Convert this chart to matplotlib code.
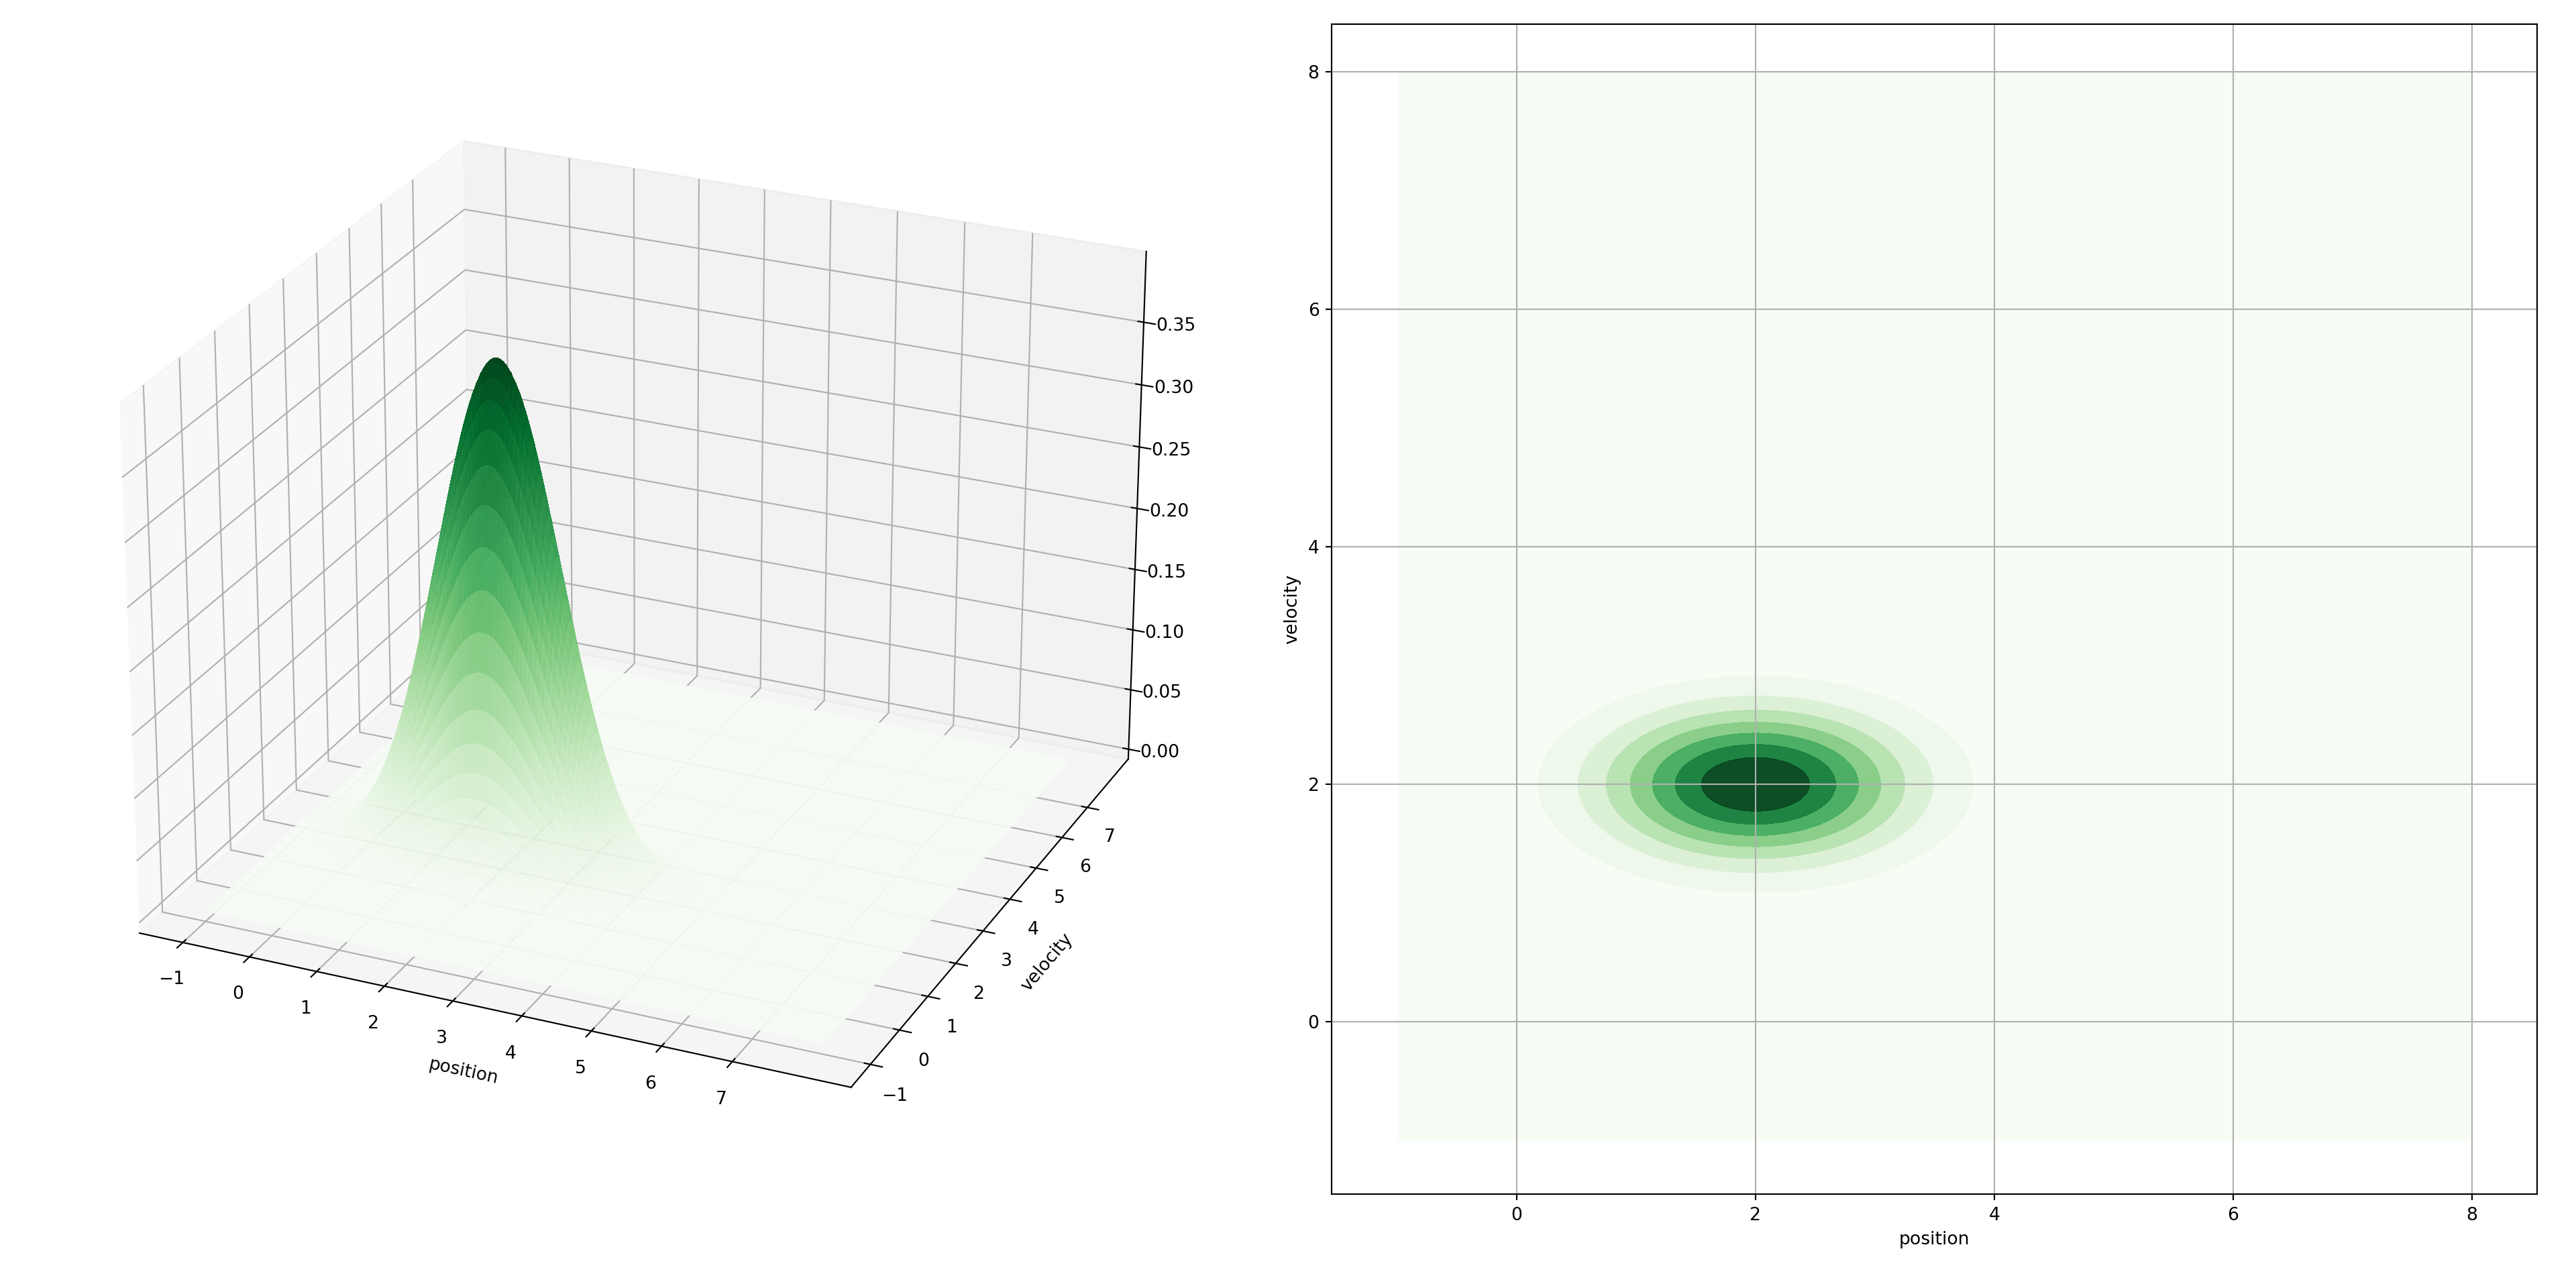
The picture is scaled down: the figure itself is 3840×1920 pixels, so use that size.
import numpy as np
import matplotlib
matplotlib.use("Agg")
import matplotlib.pyplot as plt

mean = [2.0, 2.0]
variance = [0.8, 0.2]
grid_lo, grid_hi = -1.0, 8.0
levels = [0, 0.05, 0.10, 0.15, 0.20, 0.25, 0.30, 0.35, 0.40]
axis_ticks = list(range(-1, 8))
z_ticks = [0, 0.05, 0.10, 0.15, 0.20, 0.25, 0.30, 0.35]

x = np.linspace(grid_lo, grid_hi, 300)
y = np.linspace(grid_lo, grid_hi, 300)
X, Y = np.meshgrid(x, y)
Z = np.exp(-0.5*((X-mean[0])**2/variance[0] + (Y-mean[1])**2/variance[1])) / (2*np.pi*np.sqrt(variance[0]*variance[1]))

fig = plt.figure(figsize=(20, 10), dpi=192)
ax = fig.add_axes([0.01, 0.07, 0.47, 0.92], projection='3d')
ax.plot_surface(X, Y, Z, cmap='Greens', rstride=2, cstride=2, linewidth=0,
                antialiased=False, alpha=0.85)
ax.view_init(elev=25, azim=-66)
ax.set_xticks(axis_ticks)
ax.set_yticks(axis_ticks)
ax.set_zticks(z_ticks)
ax.set_xlabel('position')
ax.set_ylabel('velocity')

ax2 = fig.add_axes([0.517, 0.073, 0.468, 0.908])
cmap = plt.get_cmap('Greens')
n_layers = len(levels) - 1
layer_colors = [cmap((i / (n_layers - 1)) ** 1.4) for i in range(n_layers)]
ax2.contourf(X, Y, Z, levels=levels, colors=layer_colors, alpha=0.95)
ax2.set_xlim(-1.55, 8.55)
ax2.set_ylim(-1.45, 8.4)
ax2.grid(True)
ax2.set_xlabel('position')
ax2.set_ylabel('velocity')

fig.savefig('out.png')
